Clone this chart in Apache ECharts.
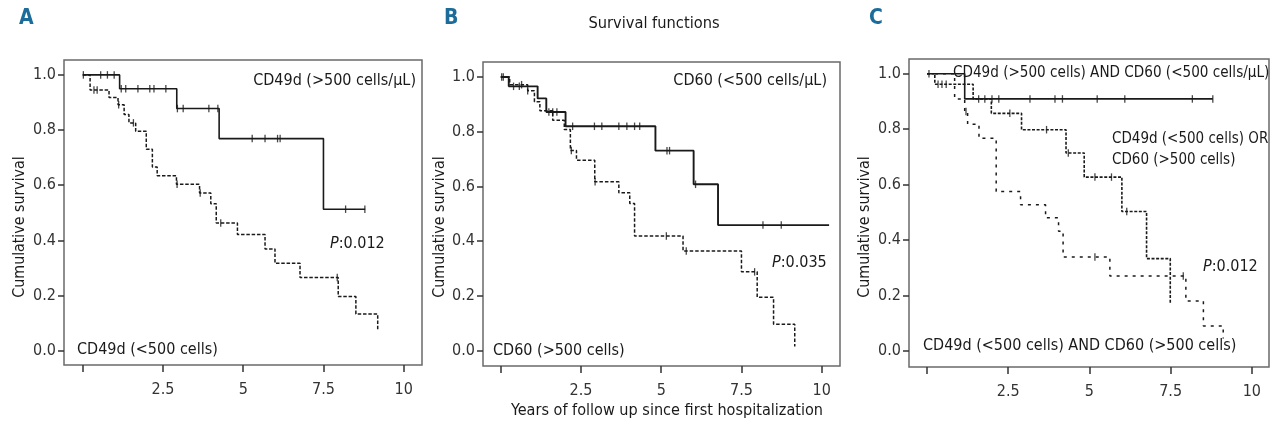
<!DOCTYPE html>
<html><head><meta charset="utf-8">
<script src="https://cdn.jsdelivr.net/npm/echarts@6/dist/echarts.min.js"></script>
<style>html,body{margin:0;padding:0;background:#fff}#c{width:1280px;height:430px}</style>
</head><body><div id="c"></div>
<script>
// ---------- tick values ----------
const xTickValues = [0, 2.5, 5, 7.5, 10];
const xLabelValues = [2.5, 5, 7.5, 10];
const yTickValues = [0, 0.2, 0.4, 0.6, 0.8, 1.0];

// ---------- Panel A: CD49d ----------
const A_hi_times = [1.15, 2.93, 4.25, 7.50];
const A_hi_surv  = [0.950, 0.878, 0.769, 0.513];
const A_hi_end   = 8.8;
const A_hi_cens  = [0.02, 0.56, 0.77, 0.98, 1.20, 1.34, 1.72, 2.09, 2.22, 2.59, 2.95, 3.13, 3.93, 4.21, 5.28, 5.68, 6.07, 6.15, 8.19, 8.79];

const A_lo_times = [0.23, 0.82, 1.10, 1.29, 1.44, 1.65, 1.98, 2.17, 2.32, 2.92, 3.64, 3.99, 4.16, 4.82, 5.68, 5.99, 6.77, 7.96, 8.51, 9.19];
const A_lo_surv  = [0.945, 0.918, 0.892, 0.856, 0.826, 0.796, 0.730, 0.666, 0.634, 0.603, 0.572, 0.533, 0.463, 0.421, 0.369, 0.317, 0.265, 0.196, 0.133, 0.075];
const A_lo_end   = 9.19;
const A_lo_cens  = [0.35, 0.45, 1.12, 1.58, 2.94, 3.66, 4.30, 7.93];

// ---------- Panel B: CD60 ----------
const B_lo_times = [0.25, 1.15, 1.42, 2.02, 4.82, 6.01, 6.77];
const B_lo_surv  = [0.966, 0.922, 0.872, 0.820, 0.731, 0.608, 0.459];
const B_lo_end   = 10.23;
const B_lo_cens  = [0.03, 0.08, 0.40, 0.58, 1.50, 1.62, 1.75, 2.24, 2.92, 3.15, 3.68, 3.93, 4.17, 4.33, 5.18, 5.26, 6.07, 8.17, 8.74];

const B_hi_times = [0.28, 0.84, 1.05, 1.22, 1.62, 1.98, 2.17, 2.36, 2.93, 3.68, 4.02, 4.17, 5.68, 7.50, 7.99, 8.50, 9.16];
const B_hi_surv  = [0.972, 0.950, 0.910, 0.877, 0.842, 0.808, 0.732, 0.696, 0.617, 0.577, 0.538, 0.419, 0.364, 0.288, 0.195, 0.097, 0.015];
const B_hi_end   = 9.16;
const B_hi_cens  = [0.65, 0.84, 2.20, 2.94, 5.16, 5.78, 7.91];

// ---------- Panel C: combined ----------
const C_g1_times = [1.16];
const C_g1_surv  = [0.909];
const C_g1_end   = 8.8;
const C_g1_cens  = [0.06, 1.59, 1.78, 2.00, 2.21, 3.17, 3.94, 4.17, 5.24, 6.09, 8.17, 8.80];

const C_g2_times = [0.24, 1.42, 1.98, 2.91, 4.28, 4.84, 6.00, 6.76, 7.49];
const C_g2_surv  = [0.962, 0.909, 0.857, 0.798, 0.714, 0.627, 0.503, 0.333, 0.174];
const C_g2_end   = 7.49;
const C_g2_cens  = [0.34, 0.46, 0.59, 2.55, 3.68, 4.35, 5.17, 5.68, 6.15];

const C_g3_times = [0.85, 1.16, 1.25, 1.60, 2.13, 2.88, 3.65, 4.05, 4.19, 5.63, 7.97, 8.51, 9.12];
const C_g3_surv  = [0.909, 0.864, 0.818, 0.767, 0.575, 0.527, 0.480, 0.432, 0.339, 0.270, 0.180, 0.090, 0.045];
const C_g3_end   = 9.12;
const C_g3_cens  = [1.20, 5.17, 7.89];

// ---------- helpers ----------
function stepData(times, surv, end) {
  const pts = [[0, 1]];
  let s = 1;
  for (let i = 0; i < times.length; i++) {
    pts.push([times[i], s]);
    s = surv[i];
    pts.push([times[i], s]);
  }
  if (end > times[times.length - 1]) pts.push([end, s]);
  return pts;
}
function survAt(times, surv, t) {
  let s = 1;
  for (let i = 0; i < times.length; i++) if (times[i] <= t) s = surv[i];
  return s;
}
function censData(times, surv, cens) {
  return cens.map(t => [t, survAt(times, surv, t)]);
}

const FONT = "'Liberation Sans Narrow', 'DejaVu Sans Condensed', 'Liberation Sans', sans-serif";
const INK = '#1a1a1a';

const panels = [
  { grid: {left: 64, top: 60, width: 358, height: 305}, x: [-0.583, 10.57], y: [-0.052, 1.054] },
  { grid: {left: 483, top: 62, width: 357, height: 304}, x: [-0.552, 10.57], y: [-0.056, 1.055] },
  { grid: {left: 909, top: 59, width: 360, height: 308}, x: [-0.555, 10.53], y: [-0.058, 1.053] }
];

const grids = [], xAxes = [], yAxes = [];
panels.forEach((p, i) => {
  grids.push(Object.assign({show: true, borderColor: '#6a6a6a', borderWidth: 1.5, backgroundColor: '#fff'}, p.grid));
  xAxes.push({
    type: 'value', gridIndex: i, min: p.x[0], max: p.x[1], position: 'bottom',
    axisLine: {show: false, onZero: false},
    splitLine: {show: false},
    axisTick: {show: true, inside: false, customValues: xTickValues, length: 7, lineStyle: {color: '#333', width: 1.5}},
    axisLabel: {customValues: xLabelValues, formatter: v => String(v), margin: 17, color: '#333', fontSize: 16, fontFamily: FONT}
  });
  yAxes.push({
    type: 'value', gridIndex: i, min: p.y[0], max: p.y[1], position: 'left',
    axisLine: {show: false, onZero: false},
    splitLine: {show: false},
    axisTick: {show: true, inside: false, customValues: yTickValues, length: 6, lineStyle: {color: '#333', width: 1.5}},
    axisLabel: {customValues: yTickValues, formatter: v => v.toFixed(1), margin: 8, color: '#333', fontSize: 16, fontFamily: FONT}
  });
});

function lineSeries(idx, times, surv, end, width, dash) {
  return {
    type: 'line', xAxisIndex: idx, yAxisIndex: idx,
    data: stepData(times, surv, end), showSymbol: false, silent: true,
    lineStyle: {color: INK, width: width, type: dash || 'solid'}, z: 3
  };
}
function censSeries(idx, times, surv, cens) {
  return {
    type: 'scatter', xAxisIndex: idx, yAxisIndex: idx,
    data: censData(times, surv, cens), symbol: 'rect', symbolSize: [1.3, 7.5],
    itemStyle: {color: INK}, silent: true, z: 4
  };
}

const series = [
  lineSeries(0, A_lo_times, A_lo_surv, A_lo_end, 1.5, [3.5, 1.8]),
  censSeries(0, A_lo_times, A_lo_surv, A_lo_cens),
  lineSeries(0, A_hi_times, A_hi_surv, A_hi_end, 1.6),
  censSeries(0, A_hi_times, A_hi_surv, A_hi_cens),

  lineSeries(1, B_hi_times, B_hi_surv, B_hi_end, 1.5, [3.5, 2]),
  censSeries(1, B_hi_times, B_hi_surv, B_hi_cens),
  lineSeries(1, B_lo_times, B_lo_surv, B_lo_end, 1.9),
  censSeries(1, B_lo_times, B_lo_surv, B_lo_cens),

  lineSeries(2, C_g3_times, C_g3_surv, C_g3_end, 1.5, [3, 5]),
  censSeries(2, C_g3_times, C_g3_surv, C_g3_cens),
  lineSeries(2, C_g2_times, C_g2_surv, C_g2_end, 1.6, [3, 1.6]),
  censSeries(2, C_g2_times, C_g2_surv, C_g2_cens),
  lineSeries(2, C_g1_times, C_g1_surv, C_g1_end, 1.6),
  censSeries(2, C_g1_times, C_g1_surv, C_g1_cens)
];

function txt(x, y, text, opt) {
  return {
    type: 'text', x: x, y: y, z: 10, silent: true,
    rotation: (opt && opt.rotation) || 0,
    style: Object.assign({
      text: text, fill: INK, fontSize: 16, fontFamily: FONT,
      align: 'left', verticalAlign: 'middle'
    }, (opt && opt.style) || {})
  };
}
const pRich = {i: {fontStyle: 'italic', fontSize: 16, fontFamily: FONT, fill: INK}};

const graphics = [
  txt(19, 19, 'A', {style: {fontSize: 21, fontWeight: 'bold', fill: '#1b6c99'}}),
  txt(444, 19, 'B', {style: {fontSize: 21, fontWeight: 'bold', fill: '#1b6c99'}}),
  txt(869, 19, 'C', {style: {fontSize: 21, fontWeight: 'bold', fill: '#1b6c99'}}),
  txt(654, 24, 'Survival functions', {style: {align: 'center', fontSize: 16.3}}),
  txt(667, 411, 'Years of follow up since first hospitalization', {style: {align: 'center', fontSize: 16.1}}),
  txt(20, 227, 'Cumulative survival', {rotation: Math.PI / 2, style: {align: 'center', fontSize: 15.8}}),
  txt(440, 227, 'Cumulative survival', {rotation: Math.PI / 2, style: {align: 'center', fontSize: 15.8}}),
  txt(865, 227, 'Cumulative survival', {rotation: Math.PI / 2, style: {align: 'center', fontSize: 15.8}}),

  txt(416, 81, 'CD49d (>500 cells/μL)', {style: {align: 'right'}}),
  txt(330, 244, '{i|P}:0.012', {style: {rich: pRich}}),
  txt(77, 350, 'CD49d (<500 cells)'),

  txt(827, 81, 'CD60 (<500 cells/μL)', {style: {align: 'right'}}),
  txt(772, 263, '{i|P}:0.035', {style: {rich: pRich}}),
  txt(493, 351, 'CD60 (>500 cells)'),

  txt(953, 73, 'CD49d (>500 cells) AND CD60 (<500 cells/μL)', {style: {fontSize: 15.1}}),
  txt(1112, 139, 'CD49d (<500 cells) OR', {style: {fontSize: 15}}),
  txt(1112, 160, 'CD60 (>500 cells)', {style: {fontSize: 15}}),
  txt(1203, 267, '{i|P}:0.012', {style: {rich: pRich}}),
  txt(923, 346, 'CD49d (<500 cells) AND CD60 (>500 cells)')
];

const chart = echarts.init(document.getElementById('c'), null, {renderer: 'canvas'});
chart.setOption({
  animation: false,
  backgroundColor: '#fff',
  textStyle: {fontFamily: FONT},
  grid: grids, xAxis: xAxes, yAxis: yAxes,
  series: series,
  graphic: graphics
});
</script>
</body></html>
